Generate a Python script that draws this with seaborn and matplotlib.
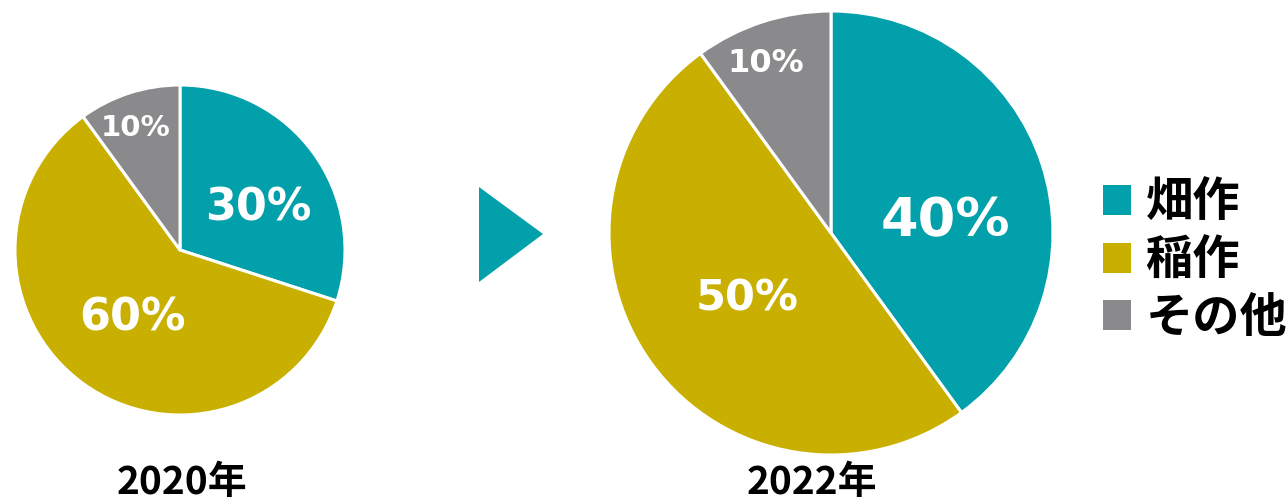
import numpy as np
import seaborn as sns
import matplotlib.pyplot as plt
from matplotlib.patches import Polygon

# データ
categories = ["畑作", "稲作", "その他"]
share_2020 = [30, 60, 10]
share_2022 = [40, 50, 10]
years = ["2020年", "2022年"]

sns.set_theme(style="white")
plt.rcParams['font.family'] = ['Noto Sans CJK JP', 'DejaVu Sans']
colors = sns.color_palette(["#02A0AA", "#C9AF00", "#8A8A8C"])

W, H = 1286, 504
fig = plt.figure(figsize=(W / 100, H / 100), dpi=100)
ax = fig.add_axes([0, 0, 1, 1])

# レイアウト (中心, 半径, ラベル位置の調整)
centers = [(180, 254), (831, 271)]
radii = [165, 222]
lab_r = [[0.54, 0.50, 0.79], [0.52, 0.48, 0.82]]
lab_shift = [[-8, 1, 2], [-12, 2, 3]]
lab_size = [[32, 32, 21], [39, 31, 23]]

for k, vals in enumerate([share_2020, share_2022]):
    wedges, _ = ax.pie(vals, colors=colors, startangle=90, counterclock=False,
                       center=centers[k], radius=radii[k],
                       wedgeprops=dict(edgecolor='white', linewidth=2.2))
    for i, w in enumerate(wedges):
        ang = np.deg2rad((w.theta1 + w.theta2) / 2 + lab_shift[k][i])
        x = centers[k][0] + lab_r[k][i] * radii[k] * np.cos(ang)
        y = centers[k][1] + lab_r[k][i] * radii[k] * np.sin(ang)
        ax.text(x, y, f"{vals[i]}%", color='white', fontweight='bold',
                fontsize=lab_size[k][i], ha='center', va='center',
                family=['DejaVu Sans', 'Noto Sans CJK JP'])
    ax.text(centers[k][0] + (2 if k == 0 else -19), 2, years[k], ha='center', va='bottom',
            fontsize=28, fontweight='bold', color='black')
    if k == 0:
        handles = wedges

# 矢印
ax.add_patch(Polygon([[479, H - 187], [479, H - 282], [543, H - 234]],
                     closed=True, facecolor=colors[0], edgecolor='none'))

leg = ax.legend(handles, categories, loc='upper left', bbox_to_anchor=(1103 / W, 1 - 179 / H),
                frameon=False, handlelength=0.6, handleheight=0.6,
                handletextpad=0.3, labelspacing=0.2, borderpad=0, borderaxespad=0,
                labelcolor='black', prop=dict(weight='bold', size=34))
for h in leg.legend_handles:
    h.set_edgecolor('none')

ax.set_xlim(0, W)
ax.set_ylim(0, H)
ax.set_aspect('equal')
ax.axis('off')

fig.savefig("out.png", dpi=100)
